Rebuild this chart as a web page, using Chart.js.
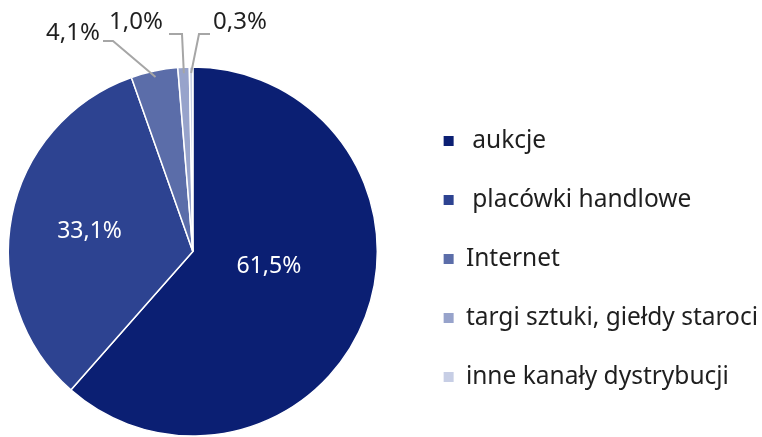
<!DOCTYPE html>
<html>
<head>
<meta charset="utf-8">
<script src="https://cdn.jsdelivr.net/npm/chart.js@4"></script>
<style>
  html, body { margin: 0; padding: 0; background: #fff; overflow: hidden; }
  #wrap { width: 762px; height: 437px; overflow: hidden; }
</style>
</head>
<body>
<div id="wrap"><canvas id="pieChart" width="762" height="449"></canvas></div>
<script>
const channels = [' aukcje', ' placówki handlowe', 'Internet', 'targi sztuki, giełdy staroci', 'inne kanały dystrybucji'];
const shares = [61.5, 33.1, 4.1, 1.0, 0.3];
const sliceColors = ['#0b1f73', '#2d4391', '#5b6da9', '#97a3cb', '#c7cee5'];

// where the small slices get their label, with a bent leader line
const callouts = {
    2: { text: [73, 33], elbow: [113, 41], end: [103, 41] },
    3: { text: [136, 22], elbow: [182, 34], end: [169, 34] },
    4: { text: [240, 22], elbow: [199, 34], end: [210, 34] },
};

const fmt = v => v.toFixed(1).replace('.', ',') + '%';

const sliceLabels = {
    id: 'sliceLabels',
    afterDatasetsDraw(chart) {
        const ctx = chart.ctx;
        const arcs = chart.getDatasetMeta(0).data;
        ctx.save();
        ctx.textBaseline = 'middle';
        arcs.forEach((arc, i) => {
            const { x, y, startAngle, endAngle, outerRadius } = arc.getProps(['x', 'y', 'startAngle', 'endAngle', 'outerRadius'], true);
            const mid = (startAngle + endAngle) / 2;
            const c = callouts[i];
            if (!c) {
                const r = outerRadius * (i === 0 ? 0.42 : 0.57);
                const a = i === 0 ? mid - 0.17 : mid;
                ctx.font = '23px "Noto Sans", sans-serif';
                ctx.fillStyle = '#ffffff';
                ctx.textAlign = 'center';
                ctx.fillText(fmt(shares[i]), x + Math.cos(a) * r, y + Math.sin(a) * r);
                return;
            }
            const r = outerRadius - 6;
            ctx.strokeStyle = '#a6a6a6';
            ctx.lineWidth = 2;
            ctx.beginPath();
            ctx.moveTo(x + Math.cos(mid) * r, y + Math.sin(mid) * r);
            ctx.lineTo(c.elbow[0], c.elbow[1]);
            ctx.lineTo(c.end[0], c.end[1]);
            ctx.stroke();
            ctx.font = '24px "Noto Sans", sans-serif';
            ctx.fillStyle = '#1f1f1f';
            ctx.textAlign = 'center';
            ctx.fillText(fmt(shares[i]), c.text[0], c.text[1]);
        });
        ctx.restore();
    }
};

const pieElem = document.getElementById('pieChart').getContext('2d');

const pieChart = new Chart(pieElem, {
    type: 'pie',
    data: {
        labels: channels,
        datasets: [{
            data: shares,
            backgroundColor: sliceColors,
            borderColor: '#ffffff',
            borderWidth: 1.5,
        }],
    },
    options: {
        responsive: false,
        animation: false,
        radius: 184.5,
        layout: {
            padding: { top: 54, left: 0, right: -6, bottom: 0 },
        },
        plugins: {
            legend: {
                position: 'right',
                align: 'start',
                title: {
                    display: true,
                    text: '',
                    font: { size: 1, lineHeight: 16.75 },
                    padding: 0,
                },
                labels: {
                    boxWidth: 10,
                    boxHeight: 10,
                    // wide padding keeps the legend away from the pie,
                    // the tiny line height brings the rows back to 59px apart
                    padding: 58,
                    color: '#1f1f1f',
                    font: { family: '"Noto Sans", sans-serif', size: 24.5, lineHeight: 0.04 },
                    generateLabels(chart) {
                        const ds = chart.data.datasets[0];
                        return chart.data.labels.map((label, i) => ({
                            text: [label],
                            fillStyle: ds.backgroundColor[i],
                            strokeStyle: ds.backgroundColor[i],
                            lineWidth: 0,
                            fontColor: '#1f1f1f',
                            hidden: false,
                            index: i,
                        }));
                    },
                },
            },
            tooltip: { enabled: false },
        },
    },
    plugins: [sliceLabels],
});
</script>
</body>
</html>
